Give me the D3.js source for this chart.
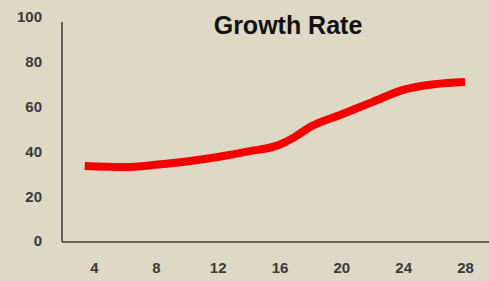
<!DOCTYPE html>
<html>
<head>
<meta charset="utf-8">
<script src="https://cdn.jsdelivr.net/npm/d3@7"></script>
<style>
  body { margin: 0; background: #ddd9c4; }
  svg { display: block; }
</style>
</head>
<body>
<div id="chart"></div>
<script>
// Data
var days = [3.4, 6, 8, 10, 12, 14, 16, 17, 18, 20, 22, 24, 26, 28];
var growth = [33.5, 33, 34, 35.5, 37.5, 40, 43, 46.5, 51, 56.5, 62, 67.5, 70, 71];
var xTicks = [4, 8, 12, 16, 20, 24, 28];
var yTicks = [0, 20, 40, 60, 80, 100];
var title = "Growth Rate";

var width = 489, height = 281;

var x = d3.scaleLinear()
          .domain([4, 28])
          .range([94, 465]);

var y = d3.scaleLinear()
          .domain([0, 100])
          .range([241, 17]);

var svg = d3.select("#chart").append("svg")
    .attr("width", width)
    .attr("height", height);

svg.append("rect")
    .attr("width", width)
    .attr("height", height)
    .attr("fill", "#ddd9c4");

// Axis lines
svg.append("line")
    .attr("x1", 62).attr("x2", 62)
    .attr("y1", 22).attr("y2", y(0) + 1)
    .attr("stroke", "#3a3a32")
    .attr("stroke-width", 1.5);

svg.append("line")
    .attr("x1", 62).attr("x2", width)
    .attr("y1", y(0) + 1).attr("y2", y(0) + 1)
    .attr("stroke", "#3a3a32")
    .attr("stroke-width", 1.5);

// Y axis labels
var yAxis = svg.append("g")
    .attr("transform", "translate(42,0)")
    .call(d3.axisLeft(y).tickValues(yTicks).tickSize(0).tickPadding(0));
yAxis.select(".domain").remove();
yAxis.selectAll("text")
    .attr("font-family", "Liberation Sans, Arial, sans-serif")
    .attr("font-size", 15)
    .attr("font-weight", "bold")
    .attr("fill", "#3a3a3a");

// X axis labels
var xAxis = svg.append("g")
    .attr("transform", "translate(0,262)")
    .call(d3.axisBottom(x).tickValues(xTicks).tickSize(0).tickPadding(0));
xAxis.select(".domain").remove();
xAxis.selectAll("text")
    .attr("font-family", "Liberation Sans, Arial, sans-serif")
    .attr("font-size", 15)
    .attr("font-weight", "bold")
    .attr("fill", "#3a3a3a");

// Line
var line = d3.line()
    .x(function(d, i) { return x(days[i]); })
    .y(function(d) { return y(d); })
    .curve(d3.curveMonotoneX);

svg.append("path")
    .datum(growth)
    .attr("d", line)
    .attr("fill", "none")
    .attr("stroke", "#f50000")
    .attr("stroke-width", 8);

// Title
svg.append("text")
    .attr("x", 288)
    .attr("y", 34)
    .attr("text-anchor", "middle")
    .attr("font-family", "Liberation Sans, Arial, sans-serif")
    .attr("font-weight", "bold")
    .attr("font-size", 25)
    .attr("fill", "#111")
    .text(title);
</script>
</body>
</html>
